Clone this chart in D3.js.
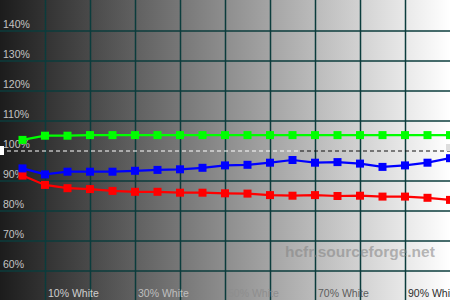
<!DOCTYPE html>
<html>
<head>
<meta charset="utf-8">
<script src="https://cdn.jsdelivr.net/npm/d3@7"></script>
<style>
  html, body { margin: 0; padding: 0; background: #fff; }
  svg { display: block; font-family: "Liberation Sans", Arial, sans-serif; }
</style>
</head>
<body>
<script>
let width = 450,
    height = 300;

// measured levels (% of white) and channel values (%)
const levels = [5, 10, 15, 20, 25, 30, 35, 40, 45, 50, 55, 60, 65, 70, 75, 80, 85, 90, 95, 100];
const redValues = [91.8, 88.7, 87.6, 87.3, 86.7, 86.4, 86.4, 86.1, 86.1, 85.9, 85.8, 85.3, 85.1, 85.3, 85.0, 85.1, 84.8, 84.8, 84.4, 83.7];
const greenValues = [103.7, 105.1, 105.1, 105.3, 105.3, 105.3, 105.3, 105.3, 105.3, 105.3, 105.3, 105.3, 105.3, 105.3, 105.3, 105.3, 105.3, 105.3, 105.3, 105.3];
const blueValues = [94.2, 92.2, 93.1, 93.1, 93.1, 93.4, 93.7, 93.9, 94.4, 95.2, 95.4, 96.1, 97.0, 96.1, 96.3, 95.8, 94.7, 95.2, 96.1, 97.6];

const yTicks = [60, 70, 80, 90, 100, 110, 120, 130, 140];
const yGrid = [60, 70, 80, 90, 110, 120, 130, 140];
const xGrid = [10, 20, 30, 40, 50, 60, 70, 80, 90];
const xLabelLevels = [10, 30, 50, 70, 90];
const xLabelText = ["10% White", "30% White", "50% White", "70% White", "90% White"];

const x = d3.scaleLinear().domain([0, 100]).range([0, width]);
const y = d3.scaleLinear().domain([50, 150]).range([301, 1]);

// label colour goes from light to dark as the background brightens
const labelColor = d3.scaleLinear()
    .domain([0, 150, 450])
    .range(["#d8d8d8", "#c4c4c4", "#222222"]);

const svg = d3.select("body").append("svg")
    .attr("width", width)
    .attr("height", height);

const grad = svg.append("defs").append("linearGradient")
    .attr("id", "bg")
    .attr("x1", 0).attr("x2", 1).attr("y1", 0).attr("y2", 0);
grad.append("stop").attr("offset", 0).attr("stop-color", "#1c1c1c");
grad.append("stop").attr("offset", 1).attr("stop-color", "#ffffff");

svg.append("rect")
    .attr("width", width)
    .attr("height", height)
    .attr("fill", "url(#bg)");

// grid
svg.append("g").selectAll("line")
    .data(yGrid)
    .enter().append("line")
    .attr("x1", 0).attr("x2", width)
    .attr("y1", d => y(d)).attr("y2", d => y(d))
    .attr("stroke", "#0b3c3c")
    .attr("stroke-width", 1.5);

svg.append("g").selectAll("line")
    .data(xGrid)
    .enter().append("line")
    .attr("x1", d => x(d) + 0.5).attr("x2", d => x(d) + 0.5)
    .attr("y1", 0).attr("y2", height)
    .attr("stroke", "#0b3c3c")
    .attr("stroke-width", 1.5);

// 100% reference line
svg.append("line")
    .attr("x1", 0).attr("x2", 300)
    .attr("y1", y(100)).attr("y2", y(100))
    .attr("stroke", "#ffffff")
    .attr("stroke-dasharray", "4,3");
svg.append("line")
    .attr("x1", 300).attr("x2", width)
    .attr("y1", y(100)).attr("y2", y(100))
    .attr("stroke", "#111111")
    .attr("stroke-dasharray", "4,3");
svg.append("rect")
    .attr("x", 0).attr("y", y(100) - 5)
    .attr("width", 4).attr("height", 9)
    .attr("fill", "#ffffff");
svg.append("rect")
    .attr("x", width - 4).attr("y", y(100) - 7)
    .attr("width", 4).attr("height", 7)
    .attr("fill", "#dddddd");

// axis labels
svg.append("g").selectAll("text")
    .data(yTicks)
    .enter().append("text")
    .attr("x", 3)
    .attr("y", d => y(d) - 3.5)
    .attr("font-size", "10.5px")
    .attr("fill", "#c4c4c4")
    .text(d => d + "%");

svg.append("g").selectAll("text")
    .data(xLabelLevels)
    .enter().append("text")
    .attr("x", d => x(d) + 3)
    .attr("y", 297)
    .attr("font-size", "10.5px")
    .attr("fill", d => labelColor(x(d) + 25))
    .text((d, i) => xLabelText[i]);

// watermark
svg.append("text")
    .attr("x", 285)
    .attr("y", 257)
    .attr("font-size", "15.5px")
    .attr("font-weight", "bold")
    .attr("fill", "#808080")
    .attr("fill-opacity", 0.55)
    .text("hcfr.sourceforge.net");

// series
const series = [
    { values: redValues, color: "#ff0000" },
    { values: blueValues, color: "#0000ff" },
    { values: greenValues, color: "#00ff00" }
];

const line = d3.line()
    .x(d => x(d[0]))
    .y(d => y(d[1]));

series.forEach(function (s) {
    const pts = levels.map((l, i) => [l, s.values[i]]);
    svg.append("path")
        .datum(pts)
        .attr("fill", "none")
        .attr("stroke", s.color)
        .attr("stroke-width", 2.2)
        .attr("d", line);
    svg.append("g").selectAll("rect")
        .data(pts)
        .enter().append("rect")
        .attr("x", d => x(d[0]) - 4)
        .attr("y", d => y(d[1]) - 4)
        .attr("width", 8)
        .attr("height", 8)
        .attr("fill", s.color);
});
</script>
</body>
</html>
